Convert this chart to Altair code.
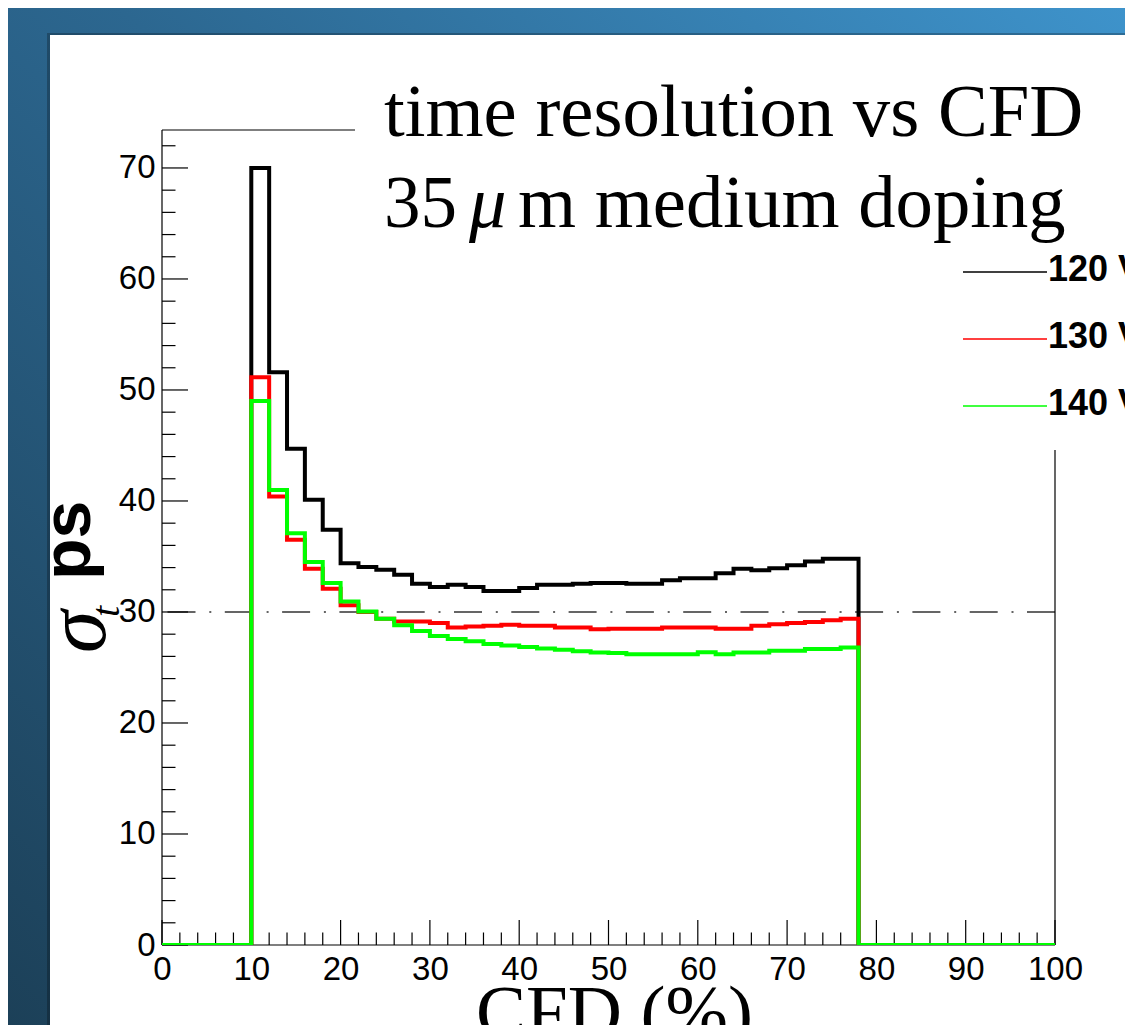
import altair as alt
import pandas as pd

# ---------------- data ----------------
cfd_bin_low = [10, 12, 14, 16, 18, 20, 22, 24, 26, 28, 30, 32, 34, 36, 38, 40, 42,
               44, 46, 48, 50, 52, 54, 56, 58, 60, 62, 64, 66, 68, 70, 72, 74, 76]
sigma_120 = [70.0, 51.6, 44.7, 40.1, 37.4, 34.4, 34.05, 33.8, 33.35, 32.55, 32.25, 32.45,
             32.25, 31.9, 31.9, 32.15, 32.45, 32.45, 32.55, 32.6, 32.6, 32.55, 32.55, 32.85,
             33.05, 33.05, 33.5, 33.9, 33.75, 33.95, 34.2, 34.55, 34.8, 34.8]
sigma_130 = [51.15, 40.4, 36.5, 33.9, 32.1, 30.6, 30.0, 29.4, 29.15, 29.15, 29.0, 28.6,
             28.7, 28.75, 28.85, 28.75, 28.75, 28.6, 28.6, 28.45, 28.5, 28.5, 28.5, 28.6,
             28.6, 28.6, 28.5, 28.5, 28.75, 28.9, 29.0, 29.1, 29.25, 29.4]
sigma_140 = [49.0, 41.0, 37.1, 34.5, 32.6, 30.95, 30.05, 29.4, 28.8, 28.28, 27.84, 27.57,
             27.36, 27.12, 26.97, 26.85, 26.7, 26.6, 26.46, 26.34, 26.3, 26.2, 26.2, 26.2,
             26.2, 26.37, 26.2, 26.34, 26.34, 26.5, 26.5, 26.67, 26.67, 26.8]
series_names = ["120 V", "130 V", "140 V"]
series_colors = ["#000000", "#ff0000", "#00ff00"]
hist_start, hist_end = 0, 78
x_domain = [0, 100]
y_domain = [0, 73.42]
x_tick_labels = [0, 10, 20, 30, 40, 50, 60, 70, 80, 90, 100]
y_tick_labels = [0, 10, 20, 30, 40, 50, 60, 70]
x_minor_ticks = [v for v in range(0, 101, 2) if v % 10]
y_minor_ticks = [v for v in range(0, 73, 2) if v % 10]
reference_level = [30]
title_line1 = "time resolution vs CFD"

# ---------------- layout ----------------
W, H = 893, 815
PAD_L, PAD_T, PAD_R, PAD_B = 154, 122, 70, 80

rows = []
for name, vals in zip(series_names, [sigma_120, sigma_130, sigma_140]):
    rows.append({"series": name, "x": hist_start, "y": 0})
    for lo, v in zip(cfd_bin_low, vals):
        rows.append({"series": name, "x": lo, "y": v})
    rows.append({"series": name, "x": hist_end, "y": 0})
    rows.append({"series": name, "x": x_domain[1], "y": 0})
hist = pd.DataFrame(rows)

xs = alt.Scale(domain=x_domain, nice=False, zero=False)
ys = alt.Scale(domain=y_domain, nice=False, zero=False)
xaxis = alt.Axis(values=x_tick_labels, ticks=False, grid=False, domain=False, zindex=1,
                 labelFont="Liberation Sans",
                 labelFontSize=33, labelColor="#000000", labelPadding=8,
                 labelFlush=False, labelOverlap=False,
                 title="CFD (%)", titleFont="Liberation Serif", titleFontSize=75,
                 titleFontWeight="normal", titleColor="#000000",
                 titleX=452, titleY=91, titleAlign="center", titleBaseline="alphabetic")
yaxis = alt.Axis(values=y_tick_labels, ticks=False, grid=False, domain=False, zindex=1,
                 labelFont="Liberation Sans",
                 labelFontSize=33, labelColor="#000000", labelPadding=7,
                 labelOverlap=False, title=None)
X = alt.X("x:Q", scale=xs, axis=xaxis)
Y = alt.Y("y:Q", scale=ys, axis=yaxis)

one = alt.Data(values=[{}])

# background gradient + white panel
bg = alt.Chart(one).mark_rect(
    color=alt.LinearGradient(
        gradient="linear", x1=0, y1=1, x2=1, y2=0,
        stops=[alt.GradientStop(color="#1c4058", offset=0),
               alt.GradientStop(color="#2c6790", offset=0.55),
               alt.GradientStop(color="#3e93cb", offset=1)])
).encode(x=alt.value(-PAD_L), x2=alt.value(W + PAD_R),
         y=alt.value(-PAD_T), y2=alt.value(H + PAD_B))
shadow = alt.Chart(one).mark_rect(color="#000000", opacity=0.25).encode(
    x=alt.value(-115), x2=alt.value(W + PAD_R), y=alt.value(-97), y2=alt.value(H + PAD_B))
panel = alt.Chart(one).mark_rect(color="#ffffff").encode(
    x=alt.value(-112), x2=alt.value(W + PAD_R), y=alt.value(-95), y2=alt.value(H + PAD_B))

# frame (top and right are interrupted by title / legend boxes)
def rule(**enc):
    return alt.Chart(one).mark_rule(color="#000000", strokeWidth=1.2).encode(**enc)

frame = [
    rule(x=alt.value(0), y=alt.value(0), y2=alt.value(H)),
    rule(x=alt.value(0), x2=alt.value(W), y=alt.value(H)),
    rule(x=alt.value(0), x2=alt.value(193), y=alt.value(0)),
    rule(x=alt.value(W), y=alt.value(320), y2=alt.value(H)),
]

# inward ticks
def xticks(vals, length):
    return alt.Chart(pd.DataFrame({"x": vals})).mark_rule(
        color="#000000", strokeWidth=1.2).encode(
        x=X, y=alt.value(H), y2=alt.value(H - length))

def yticks(vals, length):
    return alt.Chart(pd.DataFrame({"y": vals})).mark_rule(
        color="#000000", strokeWidth=1.2).encode(
        y=Y, x=alt.value(0), x2=alt.value(length))

ref = alt.Chart(pd.DataFrame({"y": reference_level})).mark_rule(
    color="#333333", strokeWidth=1.5, strokeDash=[28, 13.5, 2, 13.8]).encode(y=Y)

lines = alt.Chart(hist).mark_line(interpolate="step-after", strokeWidth=4,
                                  strokeJoin="miter", clip=True).encode(
    x=X, y=Y,
    color=alt.Color("series:N", scale=alt.Scale(domain=series_names, range=series_colors),
                    legend=None))

def txt(s, x, y, font="Liberation Serif", size=74.7, style="normal", weight="normal",
        angle=0, align="left"):
    return alt.Chart(one).mark_text(
        text=s, font=font, fontSize=size, fontStyle=style, fontWeight=weight,
        angle=angle, align=align, baseline="alphabetic", color="#000000"
    ).encode(x=alt.value(x), y=alt.value(y))

title_layers = [
    txt(title_line1, 222, 6),
    txt("35", 222, 97, size=73),
    txt("\u03bc", 307, 97, style="italic"),
    txt("m medium doping", 356, 97),
]

ytitle_layers = [
    txt("ps", -72, 450, font="Liberation Sans", size=68, weight="bold", angle=270),
    txt("\u03c3", -57, 523, size=86, style="italic", angle=270),
    txt("t", -43, 487, size=40, style="italic", angle=270),
]

legend_layers = []
for i, (name, col) in enumerate(zip(series_names, series_colors)):
    ly = 142 + i * 67
    legend_layers.append(alt.Chart(one).mark_rule(color=col, strokeWidth=1.6).encode(
        x=alt.value(801), x2=alt.value(885), y=alt.value(ly)))
    legend_layers.append(txt(name, 886, ly + 9, font="Liberation Sans", size=36,
                             weight="bold"))

chart = alt.layer(
    bg, shadow, panel,
    ref,
    xticks(x_minor_ticks, 12.5), xticks(x_tick_labels, 25),
    yticks(y_minor_ticks, 13.5), yticks(y_tick_labels, 26),
    *frame,
    lines,
    *title_layers, *ytitle_layers, *legend_layers,
).properties(
    width=W, height=H,
    padding={"left": PAD_L, "top": PAD_T, "right": PAD_R, "bottom": PAD_B},
    autosize=alt.AutoSizeParams(type="none"),
    background="#2a5f80",
).configure_view(stroke=None)

chart.save("out.html", embed_options={"renderer": "svg", "actions": False})
